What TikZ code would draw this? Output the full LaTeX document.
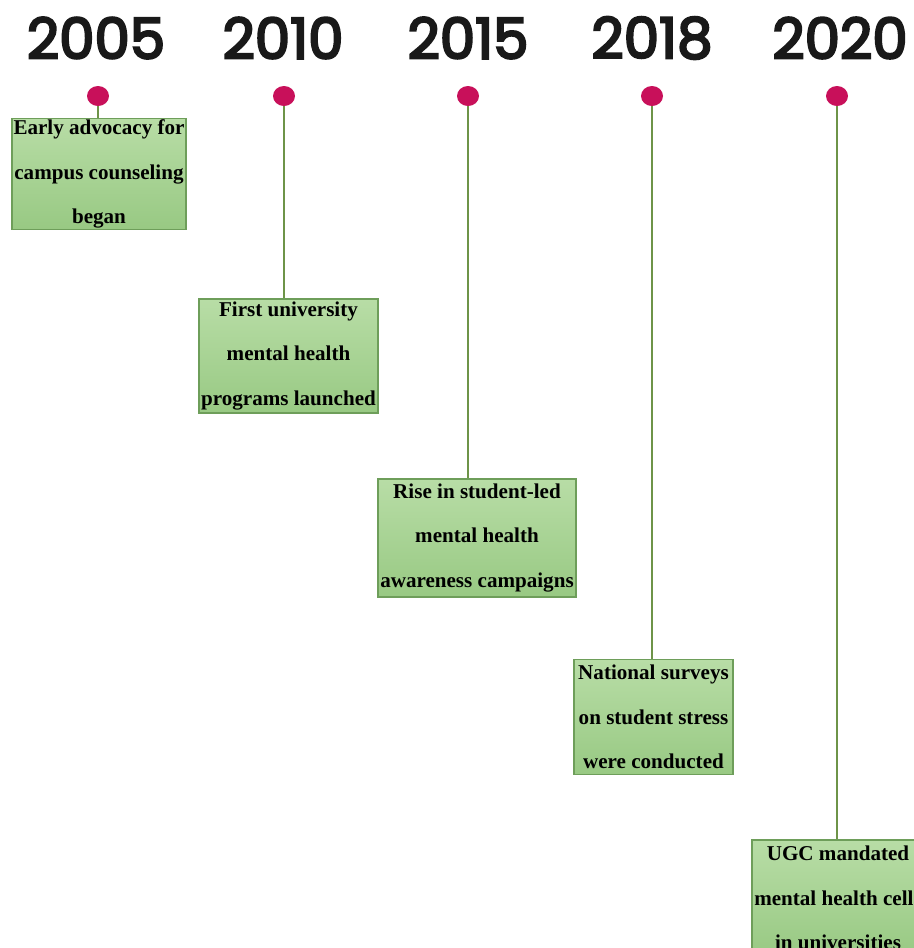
\documentclass[tikz,border=0pt]{standalone}
\usepackage{fontspec}
\setmainfont{Liberation Serif}
\newfontfamily\yearfont[FakeBold=4]{Poppins}
\definecolor{dotred}{HTML}{C8105A}
\definecolor{stemgreen}{HTML}{6E9448}
\definecolor{boxtop}{HTML}{B8DDA6}
\definecolor{boxbot}{HTML}{98C983}
\definecolor{boxedge}{HTML}{6E9E5A}
\tikzset{
  year/.style={font=\yearfont\fontsize{32}{36}\selectfont, text=black!90},
  pin/.style={ellipse, fill=dotred, minimum width=22*0.02cm, minimum height=20*0.02cm, inner sep=0pt},
  eventbox/.style={draw=boxedge, line width=0.6pt, top color=boxtop, bottom color=boxbot,
    align=center, inner sep=0pt, font=\bfseries\fontsize{12}{25.5}\selectfont},
  stem/.style={draw=stemgreen, line width=1.2pt}
}
\usetikzlibrary{shapes.geometric}
\begin{document}
\begin{tikzpicture}[x=0.02cm, y=-0.02cm]
            \useasboundingbox (0,0) rectangle (914,948);
            \clip (0,0) rectangle (914,948);
            \fill[white] (0,0) rectangle (914,948);

            % Jahre
            \node[year] (y2005) at (96, 38) {2005};
            \node[year] (y2010) at (283, 38) {2010};
            \node[year] (y2015) at (468, 38) {2015};
            \node[year] (y2018) at (652, 38) {2018};
            \node[year] (y2020) at (840, 38) {2020};

            % Punkte
            \node[pin] (p2005) at (98, 96) {};
            \node[pin] (p2010) at (284, 96) {};
            \node[pin] (p2015) at (468, 96) {};
            \node[pin] (p2018) at (652, 96) {};
            \node[pin] (p2020) at (837, 96) {};

            % Kaesten
            \node[eventbox, minimum width=174*0.02cm, minimum height=111*0.02cm] (e2005) at (99, 174)
              {Early advocacy for\\ campus counseling\\ began};
            \node[eventbox, minimum width=179*0.02cm, minimum height=114*0.02cm] (e2010) at (288.5, 356)
              {First university\\ mental health\\ programs launched};
            \node[eventbox, minimum width=198*0.02cm, minimum height=118*0.02cm] (e2015) at (477, 538)
              {Rise in student-led\\ mental health\\ awareness campaigns};
            \node[eventbox, minimum width=159*0.02cm, minimum height=115*0.02cm] (e2018) at (653.5, 717)
              {National surveys\\ on student stress\\ were conducted};
            \node[eventbox, minimum width=172*0.02cm, minimum height=116*0.02cm] (e2020) at (838, 898)
              {UGC mandated\\ mental health cells\\ in universities};

            % Linien
            \draw[stem] (p2005) -- (p2005 |- e2005.north);
            \draw[stem] (p2010) -- (p2010 |- e2010.north);
            \draw[stem] (p2015) -- (p2015 |- e2015.north);
            \draw[stem] (p2018) -- (p2018 |- e2018.north);
            \draw[stem] (p2020) -- (p2020 |- e2020.north);

        \end{tikzpicture}
\end{document}
